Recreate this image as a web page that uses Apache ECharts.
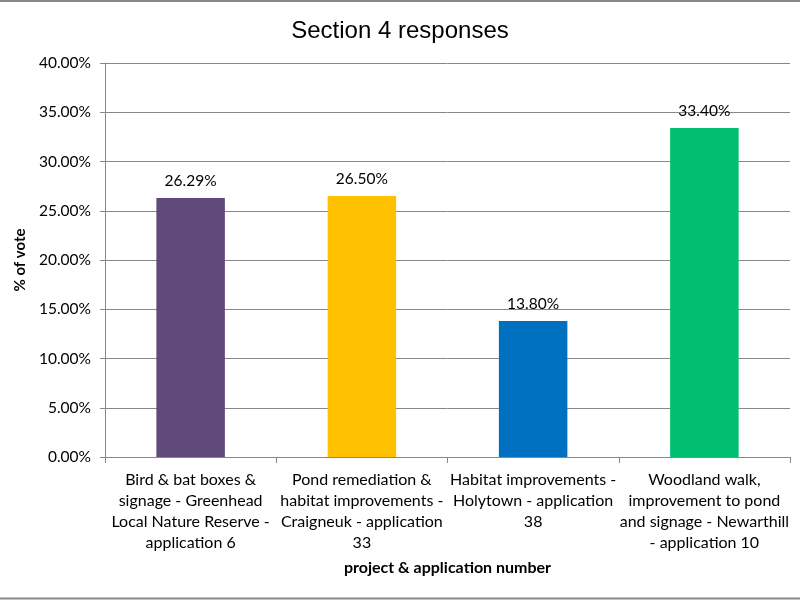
<!DOCTYPE html>
<html><head><meta charset="utf-8">
<script src="https://cdn.jsdelivr.net/npm/echarts@6/dist/echarts.min.js"></script>
<style>html,body{margin:0;padding:0;background:#fff}#c{width:800px;height:600px}</style>
</head><body><div id="c"></div>
<script>
const categories = [
  "Bird & bat boxes &\nsignage - Greenhead\nLocal Nature Reserve -\napplication 6",
  "Pond remediation &\nhabitat improvements -\nCraigneuk - application\n33",
  "Habitat improvements -\nHolytown - application\n38",
  "Woodland walk,\nimprovement to pond\nand signage - Newarthill\n- application 10"
];
const values = [26.29, 26.50, 13.80, 33.40];
const colors = ["#604A7B", "#FFC000", "#0070C0", "#00BF6F"];
const yTicks = [0, 5, 10, 15, 20, 25, 30, 35, 40];

const chart = echarts.init(document.getElementById('c'));
chart.setOption({
  animation: false,
  graphic: [
    {type:'line', shape:{x1:0,y1:1,x2:800,y2:1}, style:{stroke:'#888', lineWidth:2}, silent:true},
    {type:'line', shape:{x1:0,y1:598.5,x2:800,y2:598.5}, style:{stroke:'#888', lineWidth:2}, silent:true}
  ],
  title: {text: 'Section 4 responses', left: 'center', top: 14,
    textStyle: {fontFamily: 'Liberation Sans', fontSize: 24, fontWeight: 'normal', color: '#000'}},
  grid: {left: 105, right: 10, top: 63, bottom: 143},
  xAxis: {
    type: 'category', data: categories,
    name: 'project & application number', nameLocation: 'middle', nameGap: 103,
    nameTextStyle: {fontFamily: 'Lato', fontSize: 16, fontWeight: 'bold', color: '#000'},
    axisLine: {lineStyle: {color: '#888'}},
    axisTick: {show: true, length: 6, lineStyle: {color: '#888'}},
    axisLabel: {interval: 0, fontFamily: 'Lato', fontSize: 16, color: '#000', lineHeight: 21, margin: 12}
  },
  yAxis: {
    type: 'value', min: yTicks[0], max: yTicks[yTicks.length-1], interval: 5,
    name: '% of vote', nameLocation: 'middle', nameGap: 76, nameRotate: 90,
    nameTextStyle: {fontFamily: 'Lato', fontSize: 15, fontWeight: 'bold', color: '#000'},
    axisLine: {show: true, lineStyle: {color: '#888'}},
    axisTick: {show: true, length: 5, inside: false, lineStyle: {color: '#888'}},
    splitLine: {lineStyle: {color: '#888'}},
    axisLabel: {fontFamily: 'Lato', fontSize: 15.5, color: '#000', margin: 14,
      formatter: v => v.toFixed(2) + '%'}
  },
  series: [{
    type: 'bar', barWidth: '40%',
    data: values.map((v, i) => ({value: v, itemStyle: {color: colors[i]}})),
    label: {show: true, position: 'top', distance: 9, fontFamily: 'Lato', fontSize: 15.5, color: '#000',
      formatter: p => p.value.toFixed(2) + '%'}
  }]
});
</script></body></html>
